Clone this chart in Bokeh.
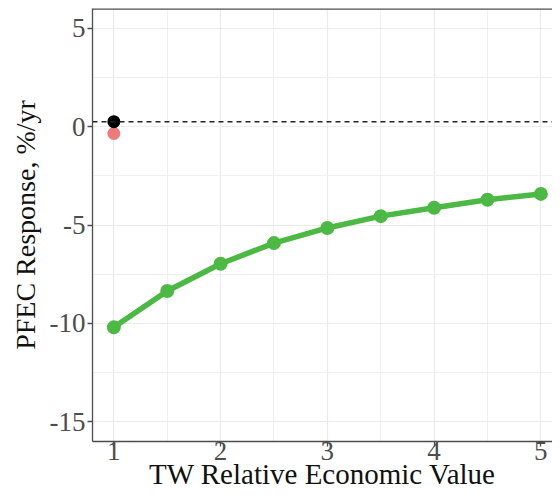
from bokeh.plotting import figure
from bokeh.models import Range1d, Span, FixedTicker, PrintfTickFormatter
from bokeh.embed import file_html
from bokeh.resources import INLINE

# data
tw_value = [1, 1.5, 2, 2.5, 3, 3.5, 4, 4.5, 5]
pfec_response = [-10.2, -8.35, -6.97, -5.92, -5.15, -4.55, -4.12, -3.72, -3.42]
black_x = [1]
black_y = [0.25]
red_x = [1]
red_y = [-0.35]
baseline = 0.25
x_ticks = [1, 2, 3, 4, 5]
x_minor = [1.5, 2.5, 3.5, 4.5]
y_ticks = [-15, -10, -5, 0, 5]
y_minor = [-12.5, -7.5, -2.5, 2.5]

FONT = "Liberation Serif"

p = figure(width=552, height=492, output_backend="svg", toolbar_location=None,
           x_range=Range1d(0.8, 5.109), y_range=Range1d(-16, 6),
           min_border_left=92, min_border_right=0, min_border_top=8, min_border_bottom=0)
p.outline_line_color = None
p.background_fill_color = "white"
p.border_fill_color = "white"

for ax in (p.xaxis[0], p.yaxis[0]):
    ax.axis_line_color = "#4d4d4d"
    ax.axis_line_width = 1.3
    ax.major_tick_line_color = "#4d4d4d"
    ax.major_tick_line_width = 1.3
    ax.major_tick_out = 5
    ax.major_tick_in = 0
    ax.minor_tick_line_color = None
    ax.major_label_text_font = FONT
    ax.major_label_text_font_size = "27px"
    ax.major_label_text_color = "#4d4d4d"
    ax.axis_label_text_font = FONT
    ax.axis_label_text_font_style = "normal"
    ax.axis_label_text_color = "#111111"
    ax.formatter = PrintfTickFormatter(format="%d")

p.xaxis.axis_label_text_font_size = "29px"
p.yaxis.axis_label_text_font_size = "28px"
p.xaxis.ticker = FixedTicker(ticks=x_ticks, minor_ticks=x_minor)
p.yaxis.ticker = FixedTicker(ticks=y_ticks, minor_ticks=y_minor)
p.xaxis.axis_label = "TW Relative Economic Value"
p.yaxis.axis_label = "PFEC Response, %/yr"
p.xaxis.major_label_standoff = -5
p.xaxis.axis_label_standoff = -5
p.yaxis.major_label_standoff = 2
p.yaxis.axis_label_standoff = 6

for g in (p.xgrid[0], p.ygrid[0]):
    g.grid_line_color = "#ebebeb"
    g.grid_line_width = 1.2
    g.minor_grid_line_color = "#f0f0f0"
    g.minor_grid_line_width = 1

top = Span(location=6, dimension="width", line_color="#4d4d4d", line_width=2.5)
p.add_layout(top)
dash = Span(location=baseline, dimension="width", line_color="#222222",
            line_width=1.5, line_dash="5 4")
p.add_layout(dash)

p.line(tw_value, pfec_response, line_color="#4CB944", line_width=5.5)
p.scatter(tw_value, pfec_response, size=14, fill_color="#4CB944", line_color=None)
p.scatter(red_x, red_y, size=13, fill_color="#EE7B7B", line_color=None)
p.scatter(black_x, black_y, size=13, fill_color="black", line_color=None)

open("out.html", "w").write(file_html(p, INLINE))
